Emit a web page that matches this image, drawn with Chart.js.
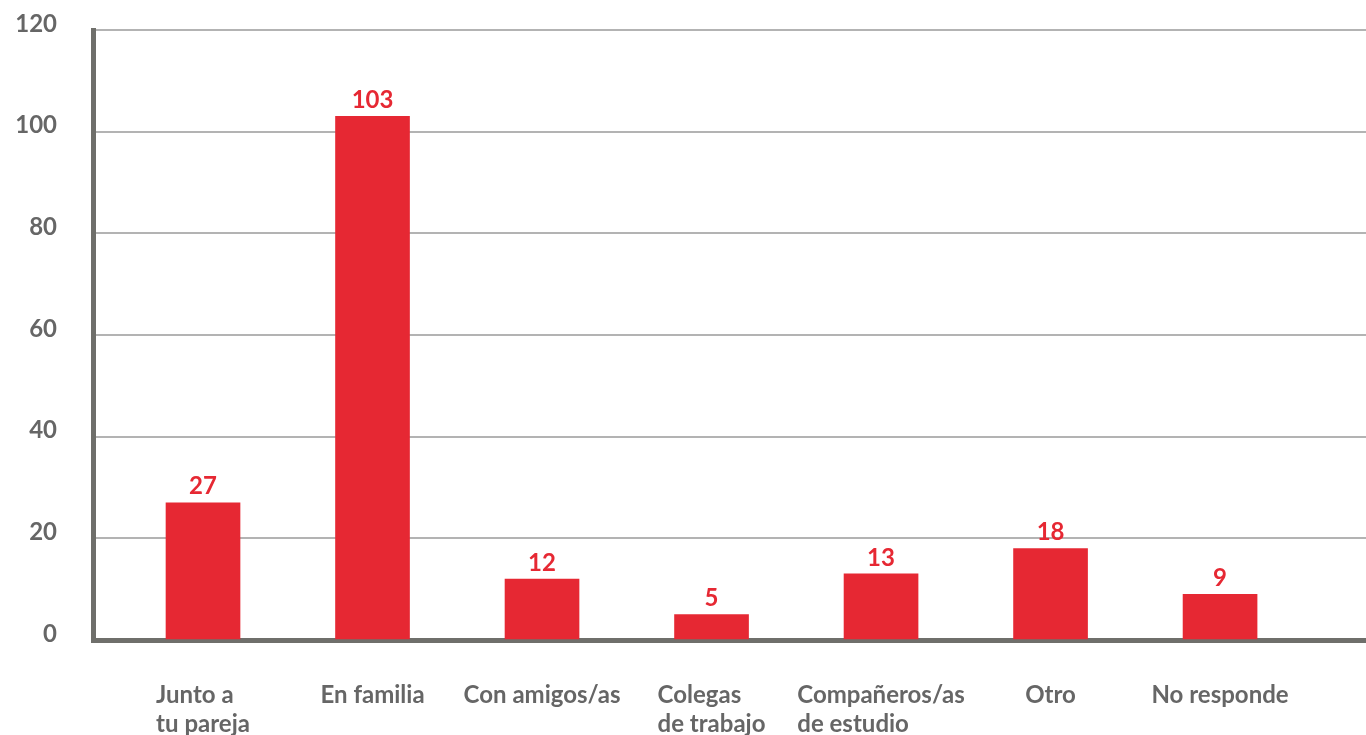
<!DOCTYPE html>
<html>
<head>
<meta charset="utf-8">
<script src="https://cdn.jsdelivr.net/npm/chart.js@4/dist/chart.umd.min.js"></script>
<style>
  html, body { margin: 0; padding: 0; background: #fff; }
  #wrap { width: 1366px; height: 735px; }
</style>
</head>
<body>
<div id="wrap"><canvas id="chart" width="1366" height="735"></canvas></div>
<script>
// data
const categories = [
  ['Junto a', 'tu pareja'],
  ['En familia'],
  ['Con amigos/as'],
  ['Colegas', 'de trabajo'],
  ['Compañeros/as', 'de estudio'],
  ['Otro'],
  ['No responde']
];
const values = [27, 103, 12, 5, 13, 18, 9];
const yTicks = [0, 20, 40, 60, 80, 100, 120];

const RED = '#e62833';
const GREY = '#666666';
const LABEL_FONT = 'bold 24px Lato';

// value labels above each bar
const barValues = {
  id: 'barValues',
  afterDatasetsDraw(chart) {
    const ctx = chart.ctx;
    const meta = chart.getDatasetMeta(0);
    ctx.save();
    ctx.font = LABEL_FONT;
    ctx.fillStyle = RED;
    ctx.textAlign = 'center';
    ctx.textBaseline = 'bottom';
    meta.data.forEach((bar, i) => {
      ctx.fillText(values[i], bar.x, bar.y - 4);
    });
    ctx.restore();
  }
};

new Chart(document.getElementById('chart'), {
  type: 'bar',
  data: {
    datasets: [{
      data: values.map((v, i) => ({ x: i, y: v })),
      backgroundColor: RED,
      barThickness: 74
    }]
  },
  options: {
    responsive: false,
    animation: false,
    layout: { padding: { top: 30, right: 0, left: 0, bottom: 0 } },
    plugins: { legend: { display: false }, tooltip: { enabled: false } },
    scales: {
      x: {
        type: 'linear',
        offset: false,
        min: -0.649,
        max: 6.861,
        // labels are left-aligned blocks centred under each bar
        afterBuildTicks(scale) {
          const ctx = scale.ctx;
          ctx.save();
          ctx.font = LABEL_FONT;
          const unit = scale.width / (scale.max - scale.min);
          scale.ticks = categories.map((lines, i) => {
            const w = Math.max(...lines.map(l => ctx.measureText(l).width));
            return { value: i - w / 2 / unit };
          });
          ctx.restore();
        },
        afterFit(scale) {
          scale.height = 95;
          scale.paddingLeft = 0;
          scale.paddingRight = 0;
        },
        grid: { display: false },
        border: { display: true, color: '#6f6f6b', width: 5 },
        ticks: {
          autoSkip: false,
          maxRotation: 0,
          align: 'start',
          padding: 33,
          color: GREY,
          font: { family: 'Lato', size: 24, weight: 'bold', lineHeight: 1.2 },
          callback: (v, i) => categories[i]
        }
      },
      y: {
        min: 0,
        max: 120,
        afterBuildTicks(scale) {
          scale.ticks = yTicks.map(v => ({ value: v }));
        },
        afterFit(scale) {
          scale.width = 93;
          scale.paddingTop = 0;
          scale.paddingBottom = 0;
        },
        grid: { color: '#b3b3b3', lineWidth: 2, drawTicks: false },
        border: { display: true, color: '#6f6f6b', width: 5 },
        ticks: {
          padding: 36,
          labelOffset: -6,
          color: GREY,
          font: { family: 'Lato', size: 24, weight: 'bold' }
        }
      }
    }
  },
  plugins: [barValues]
});
</script>
</body>
</html>
